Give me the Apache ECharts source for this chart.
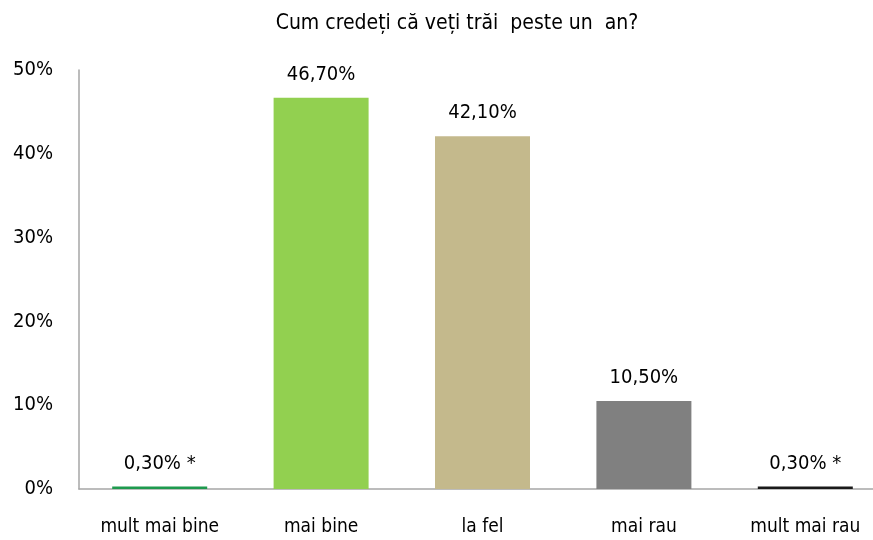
<!DOCTYPE html>
<html><head><meta charset="utf-8">
<script src="https://cdn.jsdelivr.net/npm/echarts@6/dist/echarts.min.js"></script>
<style>html,body{margin:0;padding:0;background:#fff;overflow:hidden;width:873px;height:540px}#c{width:886px;height:540px}</style>
</head><body><div id="c"></div>
<script>
const categories = ["mult mai bine", "mai bine", "la fel", "mai rau", "mult mai rau"];
const values = [0.3, 46.7, 42.1, 10.5, 0.3];
const valueLabels = ["0,30% *", "46,70%", "42,10%", "10,50%", "0,30% *"];
const colors = ["#1e9a4e", "#92d050", "#c4b98c", "#808080", "#1a1a1a"];
const yTicks = [0, 10, 20, 30, 40, 50];
const titleText = "Cum credeți că veți trăi  peste un  an?";

const FONT = "'DejaVu Sans Condensed','Liberation Sans Narrow',sans-serif";
const chart = echarts.init(document.getElementById('c'));
chart.setOption({
  animation: false,
  title: { text: titleText, left: 452, top: 8, textAlign: 'center',
    textStyle: { fontFamily: FONT, fontSize: 21, fontWeight: 'normal', color: '#000' } },
  grid: { left: 79, right: 0, top: 70, bottom: 51, containLabel: false },
  xAxis: { type: 'category', data: categories,
    axisLine: { lineStyle: { color: '#a6a6a6', width: 1.5 } },
    axisTick: { show: false },
    axisLabel: { fontFamily: FONT, fontSize: 19, color: '#000', margin: 29 } },
  yAxis: { type: 'value', min: yTicks[0], max: yTicks[yTicks.length-1], interval: 10,
    axisLine: { show: true, lineStyle: { color: '#a6a6a6', width: 1.5 } },
    axisTick: { show: false }, splitLine: { show: false },
    axisLabel: { fontFamily: FONT, fontSize: 20, color: '#000', margin: 26,
      formatter: v => v + '%' } },
  series: [{ type: 'bar', barWidth: 95,
    data: values.map((v, i) => ({ value: v, itemStyle: { color: colors[i] } })),
    label: { show: true, position: 'top', distance: 13, fontFamily: FONT, fontSize: 20, color: '#000',
      formatter: p => valueLabels[p.dataIndex] } }]
});
</script></body></html>
